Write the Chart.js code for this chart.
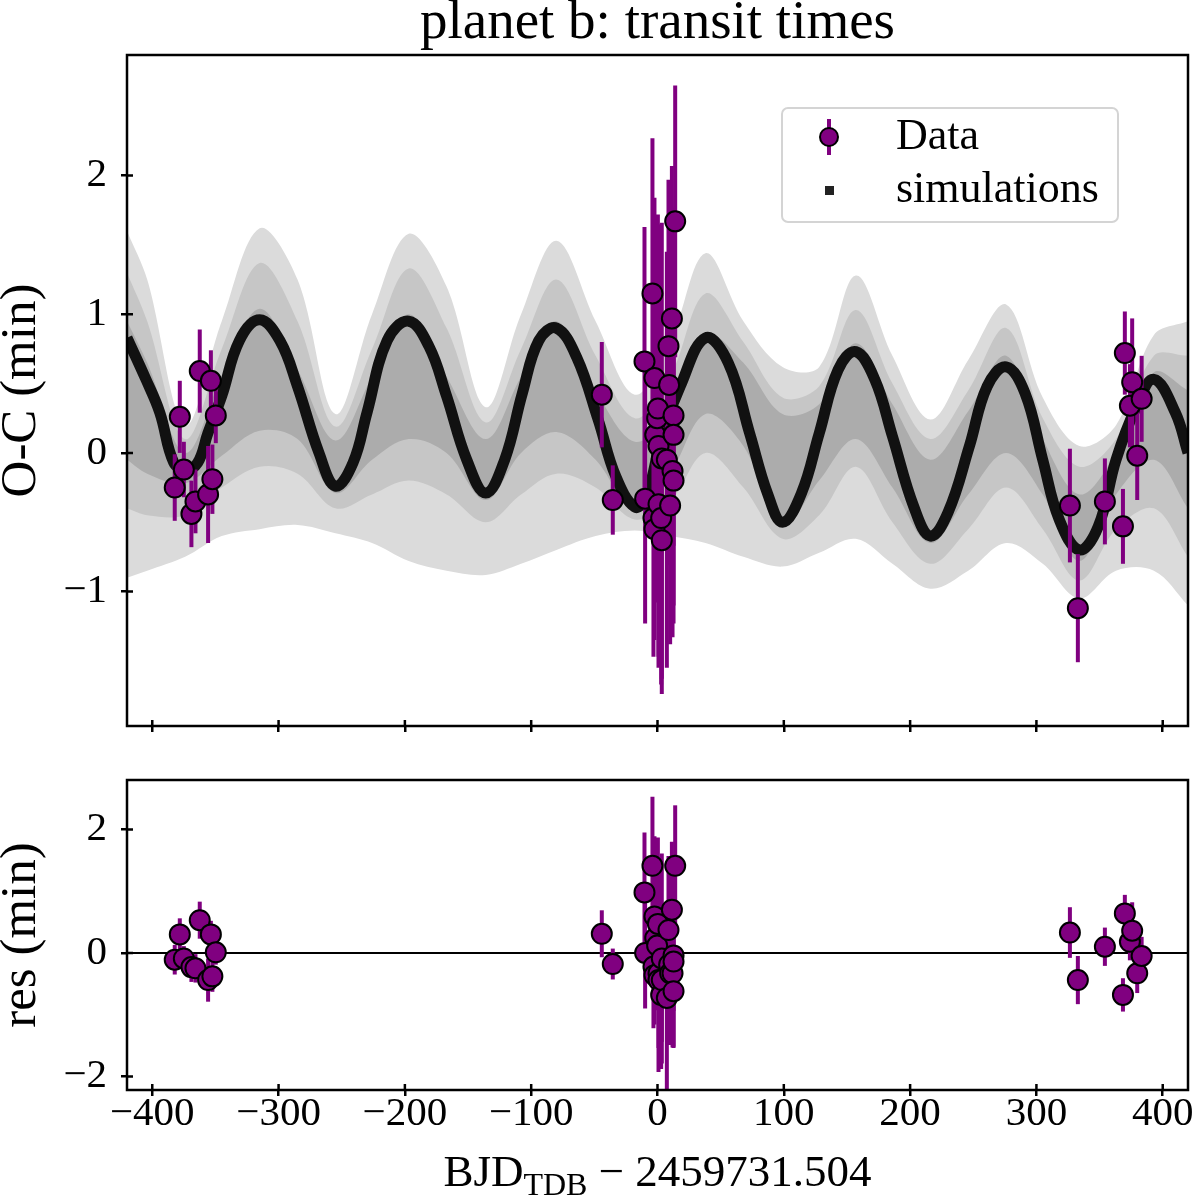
<!DOCTYPE html>
<html>
<head>
<meta charset="utf-8">
<script src="https://cdn.jsdelivr.net/npm/chart.js@4.4.1/dist/chart.umd.min.js"></script>
<style>
  body { margin: 0; background: #fff; }
  #wrap { position: relative; width: 1200px; height: 1198px; }
  canvas { position: absolute; left: 0; }
  #top { top: 0; }
  #bottom { top: 745px; }
</style>
</head>
<body>
<div id="wrap">
  <canvas id="bottom" width="1200" height="453"></canvas>
  <canvas id="top" width="1200" height="761"></canvas>
</div>
<script>
const FONT = "'Liberation Serif', serif";
const PURPLE = '#800080';

// observed transit times (days from reference epoch), O-C and residuals in minutes
const obsX = [-382.2, -378.2, -375.0, -369.0, -365.8, -362.4, -355.8, -353.6, -352.4, -349.7,
  -44.1, -35.4, -10.3, -9.8, -4.0, -3.2, -2.4, -2.4, -1.8, -0.3, 0.3, 0.8, 0.8, 2.9, 3.4, 3.4,
  7.4, 8.7, 9.2, 10.0, 11.4, 11.9, 12.7, 12.7, 12.7, 14.0,
  326.5, 332.8, 354.2, 368.5, 370.0, 374.0, 375.8, 379.8, 383.3];
const obsOC = [-0.25, 0.26, -0.12, -0.44, -0.35, 0.59, -0.30, 0.52, -0.19, 0.27,
  0.42, -0.34, 0.66, -0.33, 1.15, -0.47, 0.54, -0.55, 0.13, 0.25, 0.32, 0.05, -0.37, -0.47, -0.04, -0.63,
  -0.05, 0.77, 0.49, -0.38, 0.97, -0.13, 0.27, 0.13, -0.20, 1.67,
  -0.38, -1.12, -0.35, -0.53, 0.72, 0.34, 0.51, -0.02, 0.39];
const obsErr = [0.24, 0.26, 0.20, 0.24, 0.23, 0.30, 0.35, 0.22, 0.25, 0.20,
  0.38, 0.25, 0.97, 0.90, 1.12, 1.00, 1.30, 0.80, 1.00, 0.90, 1.40, 1.60, 1.10, 1.20, 1.70, 1.00,
  1.50, 1.20, 1.30, 1.00, 1.10, 1.20, 1.50, 0.80, 0.90, 0.98,
  0.41, 0.39, 0.31, 0.27, 0.30, 0.30, 0.46, 0.32, 0.31];
const obsRes = [-0.11, 0.30, -0.09, -0.23, -0.25, 0.53, -0.44, 0.30, -0.38, 0.01,
  0.31, -0.18, 0.98, 0.00, 1.41, -0.22, 0.59, -0.36, 0.24, 0.12, 0.47, -0.33, -0.44, -0.68, -0.09, -0.44,
  -0.73, 0.37, -0.19, -0.33, 0.70, -0.33, -0.04, -0.14, -0.62, 1.41,
  0.33, -0.44, 0.10, -0.68, 0.64, 0.18, 0.36, -0.33, -0.05];

// median of the simulations
const modelX = [-420, -405, -394, -383, -373.5, -364, -356, -345, -331, -315, -299, -285, -268, -255, -241,
  -230, -214, -197, -181, -167, -151, -136, -121, -107, -94, -80, -64, -47, -33, -18, -9, 4, 18, 38, 56,
  73, 87, 99, 114, 128, 143, 157, 172, 186, 203, 216, 230, 247, 261, 276, 291, 305, 318, 334, 349, 363,
  379, 393, 410, 420];
const modelY = [0.83, 0.53, 0.29, -0.07, -0.12, -0.07, 0.14, 0.41, 0.81, 0.96, 0.81, 0.48, 0.0, -0.24, -0.07,
  0.29, 0.81, 0.95, 0.77, 0.41, -0.05, -0.29, -0.05, 0.43, 0.81, 0.90, 0.69, 0.24, -0.17, -0.39, -0.32, 0.14, 0.48, 0.83, 0.65,
  0.14, -0.29, -0.50, -0.29, 0.14, 0.60, 0.73, 0.53, 0.12, -0.39, -0.60, -0.43, 0.05, 0.48, 0.62, 0.43, -0.05, -0.48, -0.70, -0.53, -0.05,
  0.33, 0.53, 0.29, 0.0];

// spread of the simulations (1, 2, 3 sigma)
const bandX = [-420, -404, -374, -345, -315, -285, -255, -226, -197, -167, -136, -108, -80, -49, -18,
  10, 38, 68, 99, 128, 157, 186, 216, 246, 276, 305, 334, 363, 393, 420];
const band3Hi = [1.60, 1.25, 0.20, 0.95, 1.62, 1.25, 0.28, 1.00, 1.58, 1.20, 0.33, 1.00, 1.53, 0.95, 0.42,
  0.80, 1.44, 0.95, 0.62, 0.62, 1.28, 0.70, 0.24, 0.67, 1.07, 0.40, 0.05, 0.20, 0.85, 0.95];
const band2Hi = [1.30, 0.95, 0.10, 0.75, 1.37, 0.95, 0.19, 0.75, 1.33, 0.90, 0.22, 0.75, 1.25, 0.70, 0.25,
  0.55, 1.15, 0.80, 0.40, 0.48, 1.03, 0.50, 0.10, 0.45, 0.90, 0.25, -0.10, 0.10, 0.70, 0.70];
const band1Hi = [0.95, 0.65, 0.00, 0.55, 1.04, 0.60, 0.09, 0.55, 1.00, 0.55, 0.10, 0.55, 0.95, 0.45, 0.08,
  0.30, 0.86, 0.65, 0.28, 0.35, 0.79, 0.35, -0.05, 0.30, 0.70, 0.10, -0.30, 0.00, 0.58, 0.45];
const band1Lo = [-0.05, -0.15, -0.22, -0.02, 0.16, 0.10, -0.29, -0.05, 0.10, 0.00, -0.34, 0.00, 0.15, -0.05, -0.42,
  -0.15, 0.28, 0.05, -0.52, -0.20, 0.10, -0.25, -0.65, -0.30, 0.00, -0.30, -0.78, -0.30, -0.05, -0.40];
const band2Lo = [-0.40, -0.45, -0.45, -0.25, -0.10, -0.15, -0.40, -0.30, -0.20, -0.30, -0.50, -0.30, -0.15, -0.25, -0.48,
  -0.35, 0.00, -0.25, -0.62, -0.45, -0.10, -0.50, -0.80, -0.55, -0.25, -0.55, -0.92, -0.55, -0.40, -0.75];
const band3Lo = [-0.90, -0.85, -0.75, -0.60, -0.55, -0.52, -0.58, -0.65, -0.78, -0.85, -0.88, -0.80, -0.70, -0.60, -0.56,
  -0.60, -0.65, -0.75, -0.82, -0.72, -0.62, -0.80, -0.98, -0.85, -0.65, -0.80, -1.05, -0.85, -0.85, -1.10];

const zeroX = [-420, 420];
const zeroY = [0, 0];

const xTicks = [-400, -300, -200, -100, 0, 100, 200, 300, 400];
const ocTicks = [-1, 0, 1, 2];
const resTicks = [-2, 0, 2];
const legendLabels = ['Data', 'simulations'];

function pts(xs, ys) {
  return xs.map((x, i) => ({ x: x, y: ys[i] }));
}
function minus(v) {
  return String(v).replace('-', '\u2212');
}

// purple error bars, drawn just before the data points
const errorBars = {
  id: 'errorBars',
  beforeDatasetDraw(chart, args) {
    const ds = chart.data.datasets[args.index];
    if (!ds.errorBars) return;
    const { ctx, chartArea: a, scales } = chart;
    ctx.save();
    ctx.beginPath();
    ctx.rect(a.left, a.top, a.right - a.left, a.bottom - a.top);
    ctx.clip();
    ctx.strokeStyle = PURPLE;
    ctx.lineWidth = 4;
    ds.data.forEach((p, i) => {
      const e = ds.errorBars[i];
      const px = scales.x.getPixelForValue(p.x);
      ctx.beginPath();
      ctx.moveTo(px, scales.y.getPixelForValue(p.y - e));
      ctx.lineTo(px, scales.y.getPixelForValue(p.y + e));
      ctx.stroke();
    });
    ctx.restore();
  }
};

// axes box plus the inner half of the in-out ticks
const frame = {
  id: 'frame',
  afterDatasetsDraw(chart) {
    const { ctx, chartArea: a, scales } = chart;
    ctx.save();
    ctx.strokeStyle = '#000';
    ctx.lineWidth = 2.5;
    ctx.strokeRect(a.left, a.top, a.right - a.left, a.bottom - a.top);
    ctx.beginPath();
    scales.x.ticks.forEach(t => {
      const px = scales.x.getPixelForValue(t.value);
      ctx.moveTo(px, a.bottom);
      ctx.lineTo(px, a.bottom - 6);
    });
    scales.y.ticks.forEach(t => {
      const py = scales.y.getPixelForValue(t.value);
      ctx.moveTo(a.left, py);
      ctx.lineTo(a.left + 6, py);
    });
    ctx.stroke();
    ctx.restore();
  }
};

// framed legend in the upper right of the top panel
const boxLegend = {
  id: 'boxLegend',
  afterDraw(chart) {
    const ctx = chart.ctx;
    ctx.save();
    ctx.fillStyle = 'rgba(255,255,255,0.85)';
    ctx.strokeStyle = '#d4d4d4';
    ctx.lineWidth = 2;
    ctx.beginPath();
    ctx.roundRect(782, 108, 336, 114, 6);
    ctx.fill();
    ctx.stroke();

    ctx.strokeStyle = PURPLE;
    ctx.lineWidth = 4;
    ctx.beginPath();
    ctx.moveTo(829, 119);
    ctx.lineTo(829, 155);
    ctx.stroke();
    ctx.fillStyle = PURPLE;
    ctx.strokeStyle = '#000';
    ctx.lineWidth = 2;
    ctx.beginPath();
    ctx.arc(829, 137, 9, 0, Math.PI * 2);
    ctx.fill();
    ctx.stroke();

    ctx.fillStyle = '#222';
    ctx.fillRect(825, 186, 9, 9);

    ctx.fillStyle = '#000';
    ctx.font = `44px ${FONT}`;
    ctx.textBaseline = 'middle';
    ctx.fillText(legendLabels[0], 896, 137);
    ctx.fillText(legendLabels[1], 896, 190);
    ctx.restore();
  }
};

// x axis label with a TDB subscript
const xTitle = {
  id: 'xTitle',
  afterDraw(chart) {
    const { ctx, chartArea: a } = chart;
    const big = `45px ${FONT}`;
    const small = `32px ${FONT}`;
    const parts = [['BJD', big, 0], ['TDB', small, 9], [' \u2212 2459731.504', big, 0]];
    ctx.save();
    let w = 0;
    parts.forEach(p => { ctx.font = p[1]; w += ctx.measureText(p[0]).width; });
    let x = (a.left + a.right) / 2 - w / 2;
    ctx.fillStyle = '#000';
    ctx.textBaseline = 'alphabetic';
    parts.forEach(p => {
      ctx.font = p[1];
      ctx.fillText(p[0], x, 441 + p[2]);
      x += ctx.measureText(p[0]).width;
    });
    ctx.restore();
  }
};

function xScale(showLabels, height) {
  return {
    type: 'linear',
    min: -420,
    max: 420,
    afterBuildTicks: s => { s.ticks = xTicks.map(v => ({ value: v })); },
    afterFit: s => { s.height = height; },
    border: { display: false },
    grid: { drawOnChartArea: false, drawTicks: true, tickLength: 6, color: '#000', lineWidth: 2.5 },
    ticks: {
      display: showLabels,
      padding: -2,
      maxRotation: 0,
      color: '#000',
      font: { family: FONT, size: 41, lineHeight: 1 },
      callback: v => minus(v)
    }
  };
}

function yScale(min, max, tickList, title) {
  return {
    type: 'linear',
    min: min,
    max: max,
    afterBuildTicks: s => { s.ticks = tickList.map(v => ({ value: v })); },
    afterFit: s => { s.width = 127; },
    border: { display: false },
    grid: { drawOnChartArea: false, drawTicks: true, tickLength: 6, color: '#000', lineWidth: 2.5 },
    title: {
      display: true,
      text: title,
      color: '#000',
      font: { family: FONT, size: 51, lineHeight: 0.86 },
      padding: { top: 0, bottom: 0 }
    },
    ticks: {
      padding: 14,
      color: '#000',
      font: { family: FONT, size: 41, lineHeight: 1 },
      callback: v => minus(v)
    }
  };
}

function band(ys, target, color, order) {
  const d = { data: pts(bandX, ys), borderWidth: 0, pointRadius: 0, tension: 0.35, order: order, fill: false };
  if (target !== null) {
    d.fill = { target: target };
    d.backgroundColor = color;
  }
  return d;
}

function dataSet(ys) {
  return {
    data: pts(obsX, ys),
    errorBars: obsErr,
    showLine: false,
    pointRadius: 10,
    pointHoverRadius: 10,
    pointBackgroundColor: PURPLE,
    pointBorderColor: '#000',
    pointBorderWidth: 2,
    order: 1
  };
}

Chart.defaults.font.family = FONT;

new Chart(document.getElementById('top'), {
  type: 'line',
  data: {
    datasets: [
      dataSet(obsOC),
      {
        data: pts(modelX, modelY),
        borderColor: '#111',
        borderWidth: 11,
        pointRadius: 0,
        tension: 0.4,
        fill: false,
        clip: 0,
        order: 2
      },
      band(band1Hi, 3, '#acacac', 3),
      band(band1Lo, null, null, 3),
      band(band2Hi, 5, '#c6c6c6', 4),
      band(band2Lo, null, null, 4),
      band(band3Hi, 7, '#dbdbdb', 5),
      band(band3Lo, null, null, 5)
    ]
  },
  options: {
    responsive: false,
    devicePixelRatio: 1,
    animation: false,
    events: [],
    layout: { padding: { left: 0, right: 10, top: 0, bottom: 0 } },
    plugins: {
      legend: { display: false },
      tooltip: { enabled: false },
      title: {
        display: true,
        fullSize: false,
        text: 'planet b: transit times',
        color: '#000',
        font: { family: FONT, size: 55, weight: 'normal', lineHeight: 1 },
        padding: { top: -4, bottom: 4 }
      }
    },
    scales: {
      x: xScale(false, 35),
      y: yScale(-1.97, 2.87, ocTicks, 'O-C (min)')
    }
  },
  plugins: [errorBars, frame, boxLegend]
});

new Chart(document.getElementById('bottom'), {
  type: 'line',
  data: {
    datasets: [
      dataSet(obsRes),
      {
        data: pts(zeroX, zeroY),
        borderColor: '#000',
        borderWidth: 2,
        pointRadius: 0,
        fill: false,
        order: 2
      }
    ]
  },
  options: {
    responsive: false,
    devicePixelRatio: 1,
    animation: false,
    events: [],
    layout: { padding: { left: 0, right: 10, top: 35, bottom: 0 } },
    plugins: {
      legend: { display: false },
      tooltip: { enabled: false }
    },
    scales: {
      x: xScale(true, 108),
      y: yScale(-2.22, 2.8, resTicks, 'res (min)')
    }
  },
  plugins: [errorBars, frame, xTitle]
});
</script>
</body>
</html>
